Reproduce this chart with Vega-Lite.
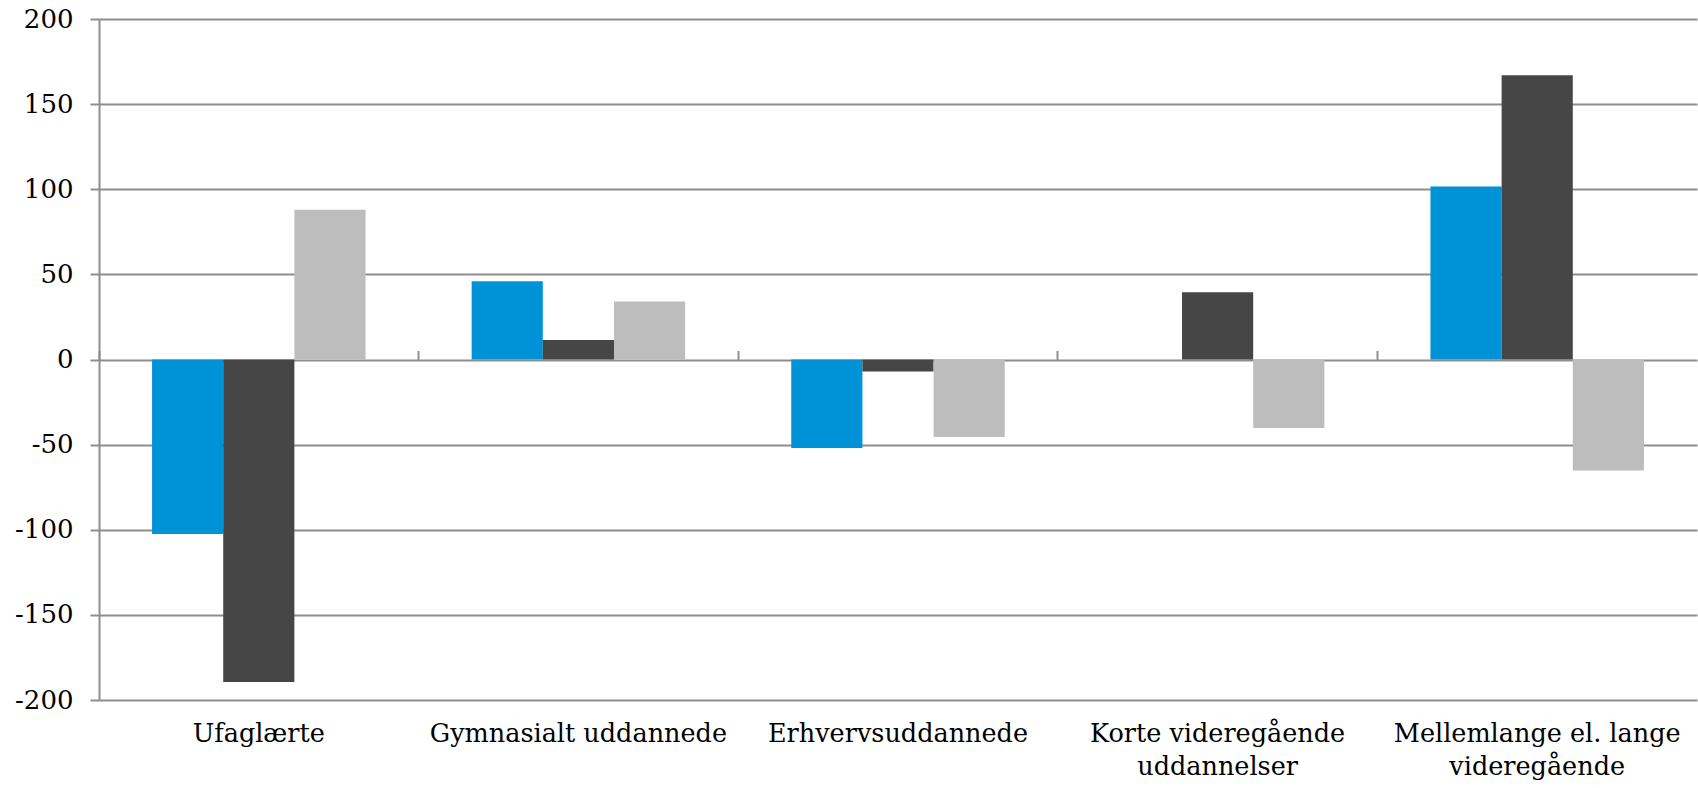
{
  "$schema": "https://vega.github.io/schema/vega-lite/v6.json",
  "width": 1598,
  "height": 681,
  "autosize": "none",
  "padding": {"left": 99, "top": 19, "right": 1, "bottom": 88},
  "config": {"view": {"stroke": null}, "font": "DejaVu Serif"},
  "data": {
    "values": [
      {"kategori": "Ufaglærte", "serie": "Serie 1", "vaerdi": -102.5},
      {"kategori": "Ufaglærte", "serie": "Serie 2", "vaerdi": -189.5},
      {"kategori": "Ufaglærte", "serie": "Serie 3", "vaerdi": 88},
      {"kategori": "Gymnasialt uddannede", "serie": "Serie 1", "vaerdi": 46},
      {"kategori": "Gymnasialt uddannede", "serie": "Serie 2", "vaerdi": 11.5},
      {"kategori": "Gymnasialt uddannede", "serie": "Serie 3", "vaerdi": 34},
      {"kategori": "Erhvervsuddannede", "serie": "Serie 1", "vaerdi": -52},
      {"kategori": "Erhvervsuddannede", "serie": "Serie 2", "vaerdi": -7},
      {"kategori": "Erhvervsuddannede", "serie": "Serie 3", "vaerdi": -45.5},
      {"kategori": "Korte videregående uddannelser", "serie": "Serie 1", "vaerdi": 0},
      {"kategori": "Korte videregående uddannelser", "serie": "Serie 2", "vaerdi": 39.5},
      {"kategori": "Korte videregående uddannelser", "serie": "Serie 3", "vaerdi": -40.3},
      {"kategori": "Mellemlange el. lange videregående", "serie": "Serie 1", "vaerdi": 101.6},
      {"kategori": "Mellemlange el. lange videregående", "serie": "Serie 2", "vaerdi": 167},
      {"kategori": "Mellemlange el. lange videregående", "serie": "Serie 3", "vaerdi": -65.2}
    ]
  },
  "layer": [
    {
      "mark": {"type": "bar"},
      "encoding": {
        "x": {
          "field": "kategori",
          "type": "nominal",
          "sort": null,
          "scale": {"paddingInner": 0.332, "paddingOuter": 0.166},
          "axis": {
            "title": null,
            "labelAngle": 0,
            "domain": false,
            "ticks": false,
            "grid": false,
            "labelFont": "DejaVu Serif",
            "labelFontSize": 25.5,
            "labelColor": "#000000",
            "labelPadding": 21,
            "labelLineHeight": 33,
            "labelBaseline": "top",
            "labelLimit": 0,
            "labelOverlap": false,
            "labelExpr": "datum.label == 'Korte videregående uddannelser' ? ['Korte videregående', 'uddannelser'] : datum.label == 'Mellemlange el. lange videregående' ? ['Mellemlange el. lange', 'videregående'] : datum.label"
          }
        },
        "xOffset": {"field": "serie", "type": "nominal", "scale": {"paddingInner": 0, "paddingOuter": 0}},
        "y": {
          "field": "vaerdi",
          "type": "quantitative",
          "scale": {"domain": [-200, 200], "nice": false},
          "axis": {
            "title": null,
            "values": [-200, -150, -100, -50, 0, 50, 100, 150, 200],
            "labelExpr": "toString(datum.value)",
            "grid": true,
            "gridColor": "#8e8e8e",
            "gridWidth": 2,
            "domainColor": "#8e8e8e",
            "domainWidth": 2,
            "tickColor": "#8e8e8e",
            "tickWidth": 2,
            "tickSize": 9,
            "labelFont": "DejaVu Serif",
            "labelFontSize": 26,
            "labelColor": "#000000",
            "labelPadding": 17
          }
        },
        "color": {
          "field": "serie",
          "type": "nominal",
          "scale": {"domain": ["Serie 1", "Serie 2", "Serie 3"], "range": ["#0092D6", "#464646", "#BDBDBD"]},
          "legend": null
        }
      }
    },
    {
      "mark": {"type": "bar", "opacity": 0},
      "encoding": {
        "x": {
          "field": "kategori",
          "type": "nominal",
          "sort": null,
          "axis": {
            "title": null,
            "labels": false,
            "domain": false,
            "grid": false,
            "ticks": true,
            "tickSize": 9,
            "tickWidth": 2,
            "tickColor": "#8e8e8e",
            "bandPosition": -0.2485,
            "offset": -340.5
          }
        },
        "xOffset": {"field": "serie", "type": "nominal"},
        "y": {"field": "vaerdi", "type": "quantitative"}
      }
    }
  ],
  "resolve": {"axis": {"x": "independent"}}
}
